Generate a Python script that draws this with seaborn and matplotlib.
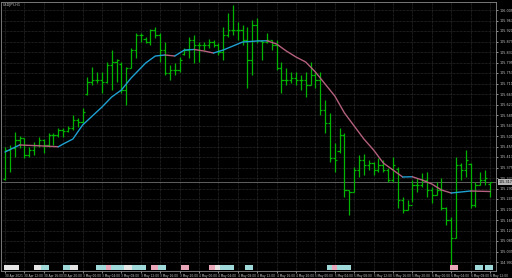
import numpy as np
import pandas as pd
import matplotlib
matplotlib.use("Agg")
import matplotlib.pyplot as plt
import matplotlib.transforms as mtrans
import seaborn as sns

# ---------------- data (USDJPY, H1) ----------------
highs = [105.457, 105.465, 105.517, 105.501, 105.493, 105.457, 105.477, 105.497, 105.489, 105.513,
         105.513, 105.533, 105.533, 105.541, 105.585, 105.573, 105.613, 105.737, 105.777, 105.757,
         105.757, 105.797, 105.845, 105.809, 105.797, 105.777, 105.853, 105.913, 105.913, 105.897,
         105.929, 105.937, 105.913, 105.877, 105.785, 105.793, 105.817, 105.853, 105.897, 105.905,
         105.877, 105.877, 105.889, 105.885, 105.873, 105.937, 105.993, 106.025, 105.957, 105.945,
         105.937, 105.965, 105.973, 105.885, 105.913, 105.885, 105.885, 105.797, 105.773, 105.757,
         105.757, 105.745, 105.757, 105.797, 105.757, 105.757, 105.645, 105.593, 105.473, 105.533,
         105.513, 105.285, 105.377, 105.425, 105.429, 105.405, 105.397, 105.413, 105.405, 105.373,
         105.417, 105.377, 105.257, 105.245, 105.325, 105.333, 105.353, 105.357, 105.297, 105.317,
         105.333, 105.217, 105.177, 105.417, 105.393, 105.445, 105.393, 105.317, 105.357, 105.365,
         105.317]
lows = [105.325, 105.357, 105.417, 105.453, 105.413, 105.417, 105.425, 105.457, 105.433, 105.457,
        105.465, 105.497, 105.497, 105.517, 105.525, 105.537, 105.553, 105.665, 105.705, 105.713,
        105.673, 105.713, 105.685, 105.717, 105.673, 105.625, 105.773, 105.813, 105.877, 105.873,
        105.865, 105.893, 105.797, 105.745, 105.725, 105.745, 105.757, 105.825, 105.813, 105.793,
        105.797, 105.845, 105.853, 105.857, 105.825, 105.805, 105.897, 105.905, 105.885, 105.865,
        105.693, 105.745, 105.873, 105.805, 105.873, 105.845, 105.765, 105.673, 105.705, 105.713,
        105.705, 105.685, 105.657, 105.705, 105.693, 105.585, 105.513, 105.397, 105.357, 105.433,
        105.257, 105.185, 105.277, 105.337, 105.345, 105.365, 105.345, 105.357, 105.357, 105.317,
        105.317, 105.213, 105.193, 105.205, 105.237, 105.277, 105.297, 105.257, 105.233, 105.265,
        105.205, 105.145, 104.973, 105.093, 105.325, 105.337, 105.213, 105.217, 105.305, 105.305,
        105.257]
opens = [105.330, 105.445, 105.453, 105.485, 105.493, 105.425, 105.445, 105.465, 105.485, 105.465,
         105.505, 105.505, 105.525, 105.521, 105.533, 105.565, 105.557, 105.670, 105.717, 105.725,
         105.725, 105.717, 105.785, 105.797, 105.790, 105.685, 105.775, 105.845, 105.905, 105.890,
         105.877, 105.925, 105.905, 105.845, 105.753, 105.765, 105.765, 105.830, 105.845, 105.885,
         105.865, 105.865, 105.865, 105.877, 105.865, 105.837, 105.905, 105.925, 105.925, 105.925,
         105.885, 105.805, 105.945, 105.883, 105.877, 105.885, 105.865, 105.773, 105.725, 105.725,
         105.733, 105.725, 105.725, 105.705, 105.745, 105.725, 105.605, 105.553, 105.413, 105.440,
         105.505, 105.285, 105.277, 105.365, 105.405, 105.385, 105.393, 105.365, 105.385, 105.365,
         105.325, 105.370, 105.245, 105.205, 105.225, 105.305, 105.305, 105.325, 105.285, 105.265,
         105.285, 105.213, 105.165, 105.093, 105.385, 105.365, 105.390, 105.225, 105.305, 105.325,
         105.310]
closes = [105.445, 105.453, 105.485, 105.493, 105.425, 105.445, 105.465, 105.485, 105.465, 105.505,
          105.505, 105.525, 105.521, 105.533, 105.565, 105.557, 105.597, 105.717, 105.725, 105.725,
          105.717, 105.785, 105.797, 105.805, 105.685, 105.773, 105.845, 105.905, 105.905, 105.877,
          105.925, 105.905, 105.845, 105.753, 105.765, 105.765, 105.805, 105.845, 105.885, 105.865,
          105.865, 105.865, 105.877, 105.865, 105.837, 105.905, 105.925, 105.925, 105.925, 105.885,
          105.805, 105.945, 105.885, 105.877, 105.885, 105.865, 105.773, 105.725, 105.725, 105.733,
          105.725, 105.725, 105.705, 105.745, 105.725, 105.605, 105.553, 105.413, 105.405, 105.505,
          105.285, 105.277, 105.365, 105.405, 105.385, 105.393, 105.365, 105.385, 105.365, 105.325,
          105.385, 105.245, 105.205, 105.225, 105.305, 105.305, 105.325, 105.285, 105.265, 105.285,
          105.213, 105.165, 105.093, 105.385, 105.365, 105.405, 105.225, 105.305, 105.325, 105.333,
          105.317]

# moving average (at these bar indices)
ma_idx = [0, 3, 7, 11, 12, 14, 16, 18, 20, 22, 24, 26, 29, 31, 33, 35, 37, 39, 41, 43,
          45, 47, 49, 52, 54, 56, 58, 60, 62, 64, 66, 68, 70, 72, 74, 76, 78, 80, 82, 84,
          86, 88, 90, 92, 94, 96, 98, 100]
ma_val = [105.437, 105.465, 105.462, 105.458, 105.469, 105.489, 105.545, 105.581, 105.617, 105.657,
          105.685, 105.733, 105.793, 105.821, 105.825, 105.821, 105.845, 105.847, 105.841, 105.833,
          105.845, 105.861, 105.877, 105.881, 105.882, 105.869, 105.841, 105.817, 105.797, 105.757,
          105.709, 105.661, 105.593, 105.541, 105.489, 105.445, 105.393, 105.365, 105.337, 105.338,
          105.325, 105.309, 105.285, 105.273, 105.277, 105.281, 105.280, 105.279]

bid_price = 105.317

price_ticks = [106.005, 105.963, 105.921, 105.879, 105.837, 105.795, 105.753, 105.711, 105.669,
               105.627, 105.585, 105.543, 105.501, 105.459, 105.417, 105.375, 105.333, 105.291,
               105.249, 105.207, 105.165, 105.123, 105.081, 105.039, 104.997]

time_idx = [0, 4, 8, 12, 16, 20, 24, 28, 32, 36, 40, 44, 48, 52, 56, 60, 64, 68, 72, 76,
            80, 84, 88, 92, 96, 100]
time_labels = ["30 Apr 2021", "30 Apr 12:00", "30 Apr 16:00", "30 Apr 20:00", "3 May 00:00",
               "3 May 04:00", "3 May 08:00", "3 May 12:00", "3 May 16:00", "3 May 20:00",
               "4 May 00:00", "4 May 04:00", "4 May 08:00", "4 May 12:00", "4 May 16:00",
               "4 May 20:00", "5 May 00:00", "5 May 04:00", "5 May 08:00", "5 May 12:00",
               "5 May 16:00", "5 May 20:00", "6 May 00:00", "6 May 04:00", "6 May 08:00",
               "6 May 12:00"]

# economic-calendar event markers along the bottom
event_pos = [0.6, 2.1, 6.8, 8.2, 12.8, 14.2, 19.6, 20.6, 21.6, 22.7, 23.7, 25.4, 27.0, 28.2,
             30.9, 32.4, 37.1, 42.9, 44.1, 45.2, 46.4, 50.3, 67.2, 68.2, 69.3, 70.5, 92.6,
             97.7, 99.8]
event_kind = ["w", "w", "w", "c", "c", "w", "c", "c", "p", "c", "c", "w", "c", "c",
              "p", "c", "p", "p", "w", "c", "c", "c", "c", "p", "c", "c", "p", "c", "c"]

# ---------------- style ----------------
sns.set_style("dark")
SMALL = ['Liberation Sans Narrow', 'DejaVu Sans']
plt.rcParams['font.family'] = SMALL

BG = '#000000'
BAR = '#00b400'
UP = '#1ea0d2'
DOWN = '#b4607e'
GRID = '#3a3a3a'
TXT = '#c8c8c8'
FRAME = '#8a8a8a'
FS = 2.4
FSX = 2.1

fig = plt.figure(figsize=(5.12, 2.78), dpi=100, facecolor=BG)
ax = fig.add_axes([1 / 512, 7 / 278, 495 / 512, 269 / 278])
ax.set_facecolor(BG)

x = np.arange(len(highs))
ax.vlines(x, lows, highs, color=BAR, lw=0.9, zorder=3)
ax.hlines(opens, x - 0.45, x, color=BAR, lw=0.9, zorder=3)
ax.hlines(closes, x, x + 0.45, color=BAR, lw=0.9, zorder=3)

# MA coloured by direction, drawn in runs
ma_df = pd.DataFrame({"idx": ma_idx, "val": ma_val})
dirs = np.sign(np.diff(ma_df["val"].values))
dirs[dirs == 0] = 1
start = 0
for j in range(1, len(dirs) + 1):
    if j == len(dirs) or dirs[j] != dirs[start]:
        seg = ma_df.iloc[start:j + 1]
        sns.lineplot(data=seg, x="idx", y="val", ax=ax, color=UP if dirs[start] > 0 else DOWN,
                     lw=1.0, estimator=None, sort=False, zorder=4)
        start = j

# bid line
ax.axhline(bid_price, color='#6e6e6e', lw=0.6, zorder=2)
trans = mtrans.blended_transform_factory(ax.transAxes, ax.transData)
ax.text(1.006, bid_price, f"{bid_price:.3f}", transform=trans, fontsize=FS, color='#000000',
        va='center', ha='left', clip_on=False,
        bbox=dict(facecolor='#b4b4b4', edgecolor='none', pad=0.4), zorder=6)

# event markers
kind_col = {"w": '#e4e4e4', "c": '#9ed8d8', "p": '#e8a6b8'}
verts = [(-1.0, -0.6), (1.0, -0.6), (1.0, 0.6), (-1.0, 0.6), (-1.0, -0.6)]
ax.scatter(event_pos, [0.013] * len(event_pos), transform=ax.get_xaxis_transform(),
           marker=verts, s=30, c=[kind_col[k] for k in event_kind], edgecolors='none',
           zorder=5, clip_on=False)

# axes, ticks and grid
ax.set_xlim(-0.825, 101.24)
ax.set_ylim(104.961, 106.037)
ax.set_xlabel("")
ax.set_ylabel("")
ax.yaxis.tick_right()
ax.set_yticks(price_ticks)
ax.set_yticklabels([f"{p:.3f}" for p in price_ticks])
ax.set_xticks(time_idx)
ax.set_xticklabels(time_labels)
for lab in ax.get_xticklabels():
    lab.set_ha('left')
    lab.set_fontsize(FSX)
for lab in ax.get_yticklabels():
    lab.set_fontsize(FS)
ax.tick_params(axis='y', colors=TXT, length=1.5, width=0.5, pad=0.8,
               right=True, left=False)
ax.tick_params(axis='x', colors=TXT, length=1.5, width=0.5, pad=0.6, bottom=True)
ax.grid(True, color=GRID, ls=(0, (1, 1)), lw=0.5, zorder=0)
for sp in ax.spines.values():
    sp.set_visible(True)
    sp.set_color(FRAME)
    sp.set_linewidth(0.6)

ax.text(0.004, 0.995, "USDJPY,H1", transform=ax.transAxes, fontsize=FS, color=TXT,
        va='top', ha='left', zorder=6)

fig.savefig("out.png", dpi=100, facecolor=BG)
